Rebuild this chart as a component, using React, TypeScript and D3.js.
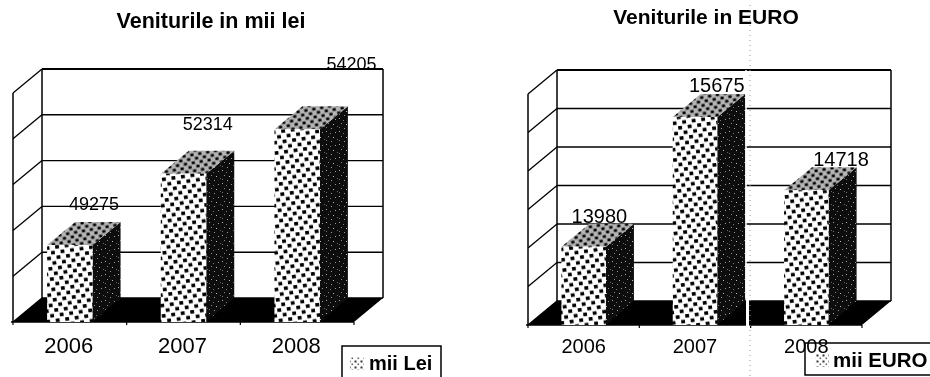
import React from "react";
import * as d3 from "d3";

const categories = ["2006", "2007", "2008"];
const leiValues = [49275, 52314, 54205];
const euroValues = [13980, 15675, 14718];
const leiDomain = [46000, 55750];
const euroDomain = [12955, 15977];

const FONT = "'Liberation Sans', Arial, sans-serif";

type PanelCfg = {
  id: string; title: string; titleX: number; titleY: number; titleSize: number;
  values: number[]; domain: number[]; intervals: number;
  x0: number; x1: number; yBase: number; wallH: number; dx: number; dy: number;
  labelSize: number; catSize: number; catY: number; catDx: number;
  labelOff: [number, number][];
  legend: { x: number; y: number; w: number; h: number; text: string; textX: number; textY: number; swX: number; swY: number; size: number };
};

const panels: PanelCfg[] = [
  {
    id: "l", title: "Veniturile in mii lei", titleX: 211, titleY: 28, titleSize: 21.5,
    values: leiValues, domain: leiDomain, intervals: 5,
    x0: 13, x1: 354, yBase: 322, wallH: 229, dx: 29, dy: 24,
    labelSize: 18, catSize: 22, catY: 353, catDx: -1,
    labelOff: [[47, -35], [47, -44], [77, -59]],
    legend: { x: 342, y: 346, w: 99, h: 40, text: "mii Lei", textX: 369, textY: 370, swX: 350, swY: 357, size: 20 },
  },
  {
    id: "r", title: "Veniturile in EURO", titleX: 706, titleY: 24, titleSize: 21,
    values: euroValues, domain: euroDomain, intervals: 6,
    x0: 528, x1: 862, yBase: 325, wallH: 231, dx: 29, dy: 24,
    labelSize: 20, catSize: 20, catY: 353, catDx: 0,
    labelOff: [[38, -24], [44, -25], [57, -24]],
    legend: { x: 805, y: 343, w: 140, h: 32, text: "mii EURO", textX: 833, textY: 367, swX: 815, swY: 354, size: 20.5 },
  },
];

function Panel({ c }: { c: PanelCfg }) {
  const x = d3.scaleBand<string>().domain(categories).range([c.x0, c.x1]).paddingInner(0.6).paddingOuter(0.3);
  const y = d3.scaleLinear().domain(c.domain).range([c.yBase, c.yBase - c.wallH]);
  const [lo, hi] = c.domain;
  const gridVals = d3.range(c.intervals + 1).map((i) => lo + (i * (hi - lo)) / c.intervals);
  const step = x.step();
  const ticks = d3.range(categories.length + 1).map((i) => c.x0 + i * step);
  const poly = (p: number[][]) => p.map((q) => q.join(",")).join(" ");
  const { dx, dy } = c;
  const bw = x.bandwidth();
  const L = c.legend;
  return (
    <g>
      <text x={c.titleX} y={c.titleY} textAnchor="middle" fontFamily={FONT} fontWeight="bold" fontSize={c.titleSize} fill="#000">{c.title}</text>
      {gridVals.map((v, i) => (
        <g key={i} stroke="#000" fill="none">
          <line x1={c.x0 + dx} x2={c.x1 + dx} y1={y(v) - dy} y2={y(v) - dy} strokeWidth={i === c.intervals ? 1.8 : 1.4} />
          <line x1={c.x0} x2={c.x0 + dx} y1={y(v)} y2={y(v) - dy} strokeWidth={1.3} />
        </g>
      ))}
      <g stroke="#000" strokeWidth={1.5} fill="none">
        <line x1={c.x0} x2={c.x0} y1={y(hi)} y2={c.yBase} />
        <line x1={c.x0 + dx} x2={c.x0 + dx} y1={y(hi) - dy} y2={c.yBase - dy} />
        <line x1={c.x1 + dx} x2={c.x1 + dx} y1={y(hi) - dy} y2={c.yBase - dy} />
      </g>
      <polygon points={poly([[c.x0, c.yBase], [c.x0 + dx, c.yBase - dy], [c.x1 + dx, c.yBase - dy], [c.x1, c.yBase]])} fill="#000" />
      <line x1={c.x0 - 2} x2={c.x1} y1={c.yBase} y2={c.yBase} stroke="#000" strokeWidth={1.5} />
      {ticks.map((t, i) => (
        <line key={i} x1={t} x2={t} y1={c.yBase} y2={c.yBase + 3} stroke="#000" strokeWidth={1.2} />
      ))}
      {categories.map((cat, i) => {
        const bx = x(cat)!;
        const top = y(c.values[i]);
        return (
          <g key={cat}>
            <polygon points={poly([[bx + bw, c.yBase], [bx + bw + dx - 1, c.yBase - dy], [bx + bw + dx - 1, top - dy + 1], [bx + bw, top]])} fill="url(#side)" />
            <polygon points={poly([[bx, top], [bx + dx - 1, top - dy + 1], [bx + bw + dx - 1, top - dy + 1], [bx + bw, top]])} fill="url(#topf)" />
            <rect x={bx} y={top} width={bw} height={c.yBase - top} fill="url(#front)" />
          </g>
        );
      })}
      {categories.map((cat, i) => (
        <text key={cat} x={x(cat)! + c.labelOff[i][0]} y={y(c.values[i]) + c.labelOff[i][1]} textAnchor="middle" fontFamily={FONT} fontSize={c.labelSize} fill="#000">{c.values[i]}</text>
      ))}
      {categories.map((cat) => (
        <text key={cat} x={x(cat)! + bw / 2 + c.catDx} y={c.catY} textAnchor="middle" fontFamily={FONT} fontSize={c.catSize} fill="#000">{cat}</text>
      ))}
      <rect x={L.x} y={L.y} width={L.w} height={L.h} fill="none" stroke="#000" strokeWidth={1.5} />
      <rect x={L.swX} y={L.swY} width={14} height={13} fill="url(#swatch)" />
      <text x={L.textX} y={L.textY} fontFamily={FONT} fontWeight="bold" fontSize={L.size} fill="#000">{L.text}</text>
    </g>
  );
}

export default function App() {
  return (
    <svg width={930} height={377} viewBox="0 0 930 377" style={{ position: "absolute", left: 0, top: 0, background: "#fff" }}>
      <defs>
        <filter id="scan" x="0" y="0" width="100%" height="100%">
          <feGaussianBlur stdDeviation="0.35" />
        </filter>
        <pattern id="front" width="9.6" height="10.4" patternUnits="userSpaceOnUse" patternTransform="rotate(-8)">
          <rect width="9.6" height="10.4" fill="#fff" />
          <rect x="1" y="1" width="3.9" height="3.5" fill="#000" />
          <rect x="5.8" y="6.2" width="3.8" height="3.5" fill="#000" />
        </pattern>
        <pattern id="swatch" width="6" height="6" patternUnits="userSpaceOnUse">
          <rect x="0.5" y="0.5" width="2" height="2" fill="#333" />
          <rect x="3.5" y="3.5" width="1.6" height="1.6" fill="#666" />
        </pattern>
        <pattern id="side" width="13" height="13" patternUnits="userSpaceOnUse">
          <rect width="13" height="13" fill="#0c0c0c" />
          <rect x="1" y="1" width="1" height="1" fill="#aaa" />
          <rect x="5" y="3" width="1" height="1" fill="#777" />
          <rect x="10" y="2" width="1" height="1" fill="#999" />
          <rect x="3" y="6" width="1" height="1" fill="#888" />
          <rect x="8" y="7" width="1" height="1" fill="#bbb" />
          <rect x="12" y="9" width="1" height="1" fill="#666" />
          <rect x="1" y="10" width="1" height="1" fill="#777" />
          <rect x="6" y="11" width="1" height="1" fill="#999" />
        </pattern>
        <pattern id="topf" width="8" height="8" patternUnits="userSpaceOnUse" patternTransform="rotate(-10)">
          <rect width="8" height="8" fill="#b4b4b4" />
          <rect x="0.5" y="0.5" width="3.2" height="2.8" fill="#000" />
          <rect x="4.5" y="4.5" width="3.2" height="2.8" fill="#000" />
        </pattern>
      </defs>
      <g filter="url(#scan)">
        <rect width={930} height={377} fill="#fff" />
        {panels.map((p) => (
          <Panel key={p.id} c={p} />
        ))}
        <rect x={746} y={298} width={3} height={30} fill="#fff" />
        <line x1={750} x2={750} y1={5} y2={377} stroke="#999" strokeWidth={1} strokeDasharray="1 4" />
        <line x1={746} x2={746} y1={70} y2={298} stroke="#fff" strokeWidth={1.5} />
      </g>
    </svg>
  );
}
